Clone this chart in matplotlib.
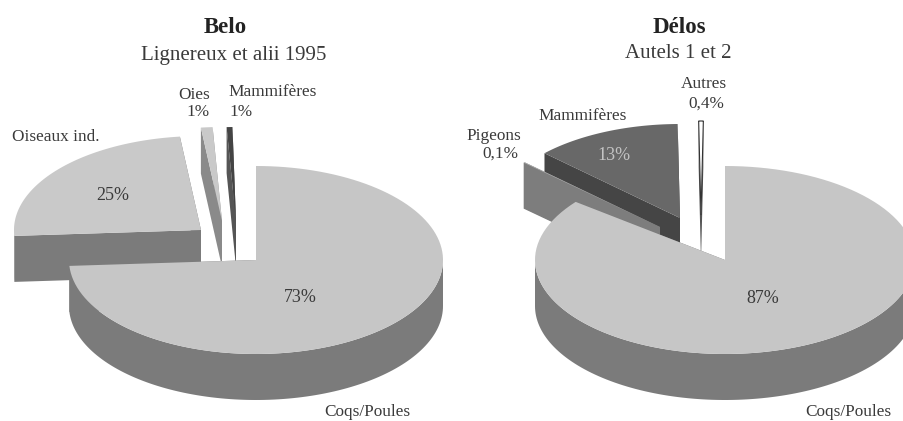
import numpy as np
import matplotlib
matplotlib.use('Agg')
import matplotlib.pyplot as plt
from matplotlib.patches import Polygon

plt.rcParams['font.family'] = ['Liberation Serif', 'DejaVu Serif']

# slice sizes as measured on the drawing, clockwise from 12 o'clock
# (the printed percentages are in the label lists)
belo_names = ['Coqs/Poules', 'Oiseaux ind.', 'Oies', 'Mammifères']
belo_values = [74, 24.2, 1, 0.5]
belo_labels = ['73%', '25%', '1%', '1%']

delos_names = ['Coqs/Poules', 'Pigeons', 'Mammifères', 'Autres']
delos_values = [87, 0.1, 12.7, 0.4]
delos_labels = ['87%', '0,1%', '13%', '0,4%']

TOP = '#c6c6c6'
WALL = '#7b7b7b'
TEXT = '#3a3a3a'

RX, RY, DEPTH = 187, 94, 46


def arc(cx, cy, a0, a1, rx=RX, n=120):
    t = np.radians(np.linspace(a0, a1, n))
    return np.column_stack([cx + rx * np.cos(t), cy - RY * np.sin(t)])


def draw_slice(ax, cx, cy, a0, a1, top=TOP, wall=WALL, edge='none', rx=RX):
    # a0 > a1, angles go clockwise
    apex = np.array([cx, cy])
    down = np.array([0, DEPTH])
    for a in (a0, a1):
        p = arc(cx, cy, a, a, rx, 1)[0]
        ax.add_patch(Polygon([apex, p, p + down, apex + down], fc=wall, ec='none'))
    # outer wall, only the front half shows
    for k in (-1, -2):
        lo, hi = max(a1, 360 * k + 180), min(a0, 360 * k + 360)
        if hi > lo:
            pts = arc(cx, cy, hi, lo, rx)
            ax.add_patch(Polygon(np.vstack([pts, pts[::-1] + down]), fc=wall, ec='none'))
    pts = arc(cx, cy, a0, a1, rx)
    ax.add_patch(Polygon(np.vstack([apex, pts]), fc=top, ec=edge, lw=0.8))


def angles(values, start=90):
    out = []
    a = start
    for v in values:
        out.append((a, a - v * 3.6))
        a -= v * 3.6
    return out


fig = plt.figure(figsize=(9.04, 4.21), dpi=100)
ax = fig.add_axes([0, 0, 1, 1])
ax.set_xlim(0, 904)
ax.set_ylim(421, 0)
ax.axis('off')

# Belo
ang = angles(belo_values)
draw_slice(ax, 201, 230, *ang[1], top='#c9c9c9')
draw_slice(ax, 222, 221, *ang[2], top='#c9c9c9', wall='#8a8a8a')
draw_slice(ax, 236, 221, *ang[3], top='#444444', wall='#555555')
draw_slice(ax, 256, 260, *ang[0])

# Delos
ang = angles(delos_values)
draw_slice(ax, 680, 218, *ang[2], top='#686868', wall='#454545')
draw_slice(ax, 660, 227, *ang[1], top='#b0b0b0', wall='#7d7d7d')
draw_slice(ax, 701, 215, *ang[3], top='#ffffff', wall='#555555', edge='#333333')
# the big slice looks a little smaller on the page because of the perspective
draw_slice(ax, 725, 260, ang[0][0], ang[0][1] + 5, rx=190)


def txt(x, y, s, ha='center', size=12.4, **kw):
    kw.setdefault('color', TEXT)
    ax.text(x, y, s, ha=ha, va='baseline', fontsize=size, **kw)


txt(225, 33, 'Belo', size=16.5, weight='bold', color='#222222')
txt(234, 60, 'Lignereux et alii 1995', size=15)
txt(100, 141, belo_names[1], ha='right')
txt(210, 99, belo_names[2], ha='right')
txt(210, 116, belo_labels[2], ha='right')
txt(228, 96, belo_names[3], ha='left')
txt(229, 116, belo_labels[3], ha='left')
txt(113, 200, belo_labels[1], size=13)
txt(300, 302, belo_labels[0], size=13)
txt(367, 416, belo_names[0])

txt(679, 33, 'Délos', size=16.5, weight='bold', color='#222222')
txt(678, 58, 'Autels 1 et 2', size=15)
txt(583, 120, delos_names[2])
txt(521, 140, delos_names[1], ha='right')
txt(518, 158, delos_labels[1], ha='right')
txt(727, 88, delos_names[3], ha='right')
txt(724, 108, delos_labels[3], ha='right')
txt(614, 160, delos_labels[2], size=13, color='#c4c4c4')
txt(763, 303, delos_labels[0], size=13)
txt(848, 416, delos_names[0])

fig.savefig('out.png', dpi=100)
